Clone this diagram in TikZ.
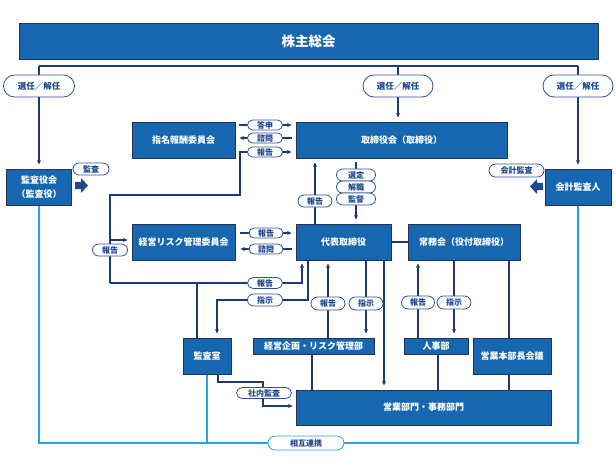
\documentclass[tikz,border=0pt]{standalone}
\usepackage{fontspec}
\setmainfont{Noto Sans CJK JP}
\usetikzlibrary{arrows.meta,shapes.misc}
\definecolor{boxblue}{RGB}{22,102,176}
\definecolor{navy}{RGB}{28,58,122}
\definecolor{boxedge}{RGB}{38,50,86}
\definecolor{pilledge}{RGB}{50,82,150}
\definecolor{pilltext}{RGB}{30,72,145}
\definecolor{blockarrow}{RGB}{36,72,140}
\definecolor{cyanline}{RGB}{38,163,224}
\pgfdeclarelayer{bg}
\pgfsetlayers{bg,main}
\tikzset{
  box/.style={draw=boxedge, line width=0.9pt, fill=boxblue, text=white,
    font=\bfseries\fontsize{9}{11}\selectfont, inner sep=0pt, align=center},
  pill/.style 2 args={rounded rectangle, draw=pilledge, line width=0.8pt, fill=white,
    text=pilltext, font=\bfseries\fontsize{8}{9}\selectfont, inner sep=0pt,
    minimum width=#1pt, minimum height=#2pt},
  bigpill/.style={font=\bfseries\fontsize{8.5}{9}\selectfont},
  ln/.style={draw=navy, line width=1.1pt},
  arr/.style={ln, -{Stealth[length=4.5pt,width=4pt]}},
  cy/.style={draw=cyanline, line width=1.4pt},
}
\begin{document}
\begin{tikzpicture}[x=1pt,y=-1pt]
\useasboundingbox (0,0) rectangle (616,468);
% ---------- boxes ----------
\node[box, minimum width=579pt, minimum height=36pt, font=\bfseries\fontsize{13.5}{15}\selectfont] (kabu) at (308.5,41) {株主総会};
\node[box, minimum width=65pt, minimum height=36pt] (kansayaku) at (39,187) {監査役会\\[3pt]（監査役）};
\node[box, minimum width=103pt, minimum height=36pt] (shimei) at (183.5,140) {指名報酬委員会};
\node[box, minimum width=211pt, minimum height=36pt] (torishimari) at (401.5,140) {取締役会（取締役）};
\node[box, minimum width=66pt, minimum height=36pt] (kaikei) at (578,187) {会計監査人};
\node[box, minimum width=103pt, minimum height=36pt] (risk) at (183.5,242) {経営リスク管理委員会};
\node[box, minimum width=95pt, minimum height=36pt] (daihyo) at (343.5,242) {代表取締役};
\node[box, minimum width=112pt, minimum height=36pt] (jomu) at (464,242) {常務会（役付取締役）};
\node[box, minimum width=48pt, minimum height=36pt] (kansashitsu) at (207,356) {監査室};
\node[box, minimum width=121pt, minimum height=16pt] (keiei) at (313.5,346) {経営企画・リスク管理部};
\node[box, minimum width=64pt, minimum height=16pt] (jinji) at (436,346) {人事部};
\node[box, minimum width=78pt, minimum height=36pt] (honbu) at (512,356) {営業本部長会議};
\node[box, minimum width=255pt, minimum height=35pt] (eigyo) at (423.5,407.5) {営業部門・事務部門};
% ---------- pills ----------
\node[pill={71}{22}, bigpill] (s1) at (39,86) {選任／解任};
\node[pill={70}{22}, bigpill] (s2) at (398,86) {選任／解任};
\node[pill={70}{22}, bigpill] (s3) at (578,86) {選任／解任};
\node[pill={35}{10}] (toushin) at (265,125) {答申};
\node[pill={35}{10}] (shimon1) at (265,138) {諮問};
\node[pill={35}{10}] (houkoku1) at (265,152) {報告};
\node[pill={34}{12}] (houkoku2) at (315,201) {報告};
\node[pill={39}{12}] (sentei) at (356,175) {選定};
\node[pill={39}{12}] (kaishoku) at (356,187) {解職};
\node[pill={39}{12}] (kantoku) at (356,199) {監督};
\node[pill={36}{12}] (kansa) at (91,169) {監査};
\node[pill={55}{13}] (kaikeikansa) at (516.5,170.5) {会計監査};
\node[pill={35}{12}] (houkoku3) at (110,250) {報告};
\node[pill={34}{10}] (houkoku4) at (266,233) {報告};
\node[pill={34}{10}] (shimon2) at (266,249) {諮問};
\node[pill={35}{11}] (houkoku5) at (265,283) {報告};
\node[pill={35}{12}] (shiji1) at (265,300) {指示};
\node[pill={34}{13}] (houkoku6) at (328,303.5) {報告};
\node[pill={34}{13}] (shiji2) at (366,303.5) {指示};
\node[pill={33}{13}] (houkoku7) at (418,302.5) {報告};
\node[pill={34}{13}] (shiji3) at (454,302.5) {指示};
\node[pill={55}{11}] (shanai) at (264,393) {社内監査};
\node[pill={76}{14}, draw=cyanline] (sougo) at (306,443) {相互連携};
% ---------- block arrows ----------
\fill[blockarrow] (75,182) -- (81,182) -- (81,178) -- (88,185.5) -- (81,193) -- (81,189) -- (75,189) -- cycle;
\fill[blockarrow] (543,183) -- (537,183) -- (537,179) -- (530,186.5) -- (537,194) -- (537,190) -- (543,190) -- cycle;
% ---------- connectors ----------
\coordinate (topL) at (39,66);
\coordinate (topM) at (398,66);
\coordinate (topR) at (578,66);
\coordinate (rA) at (110,195);
\coordinate (rB) at (240,195);
\coordinate (rC) at (110,240);
\coordinate (rD) at (302,283);
\coordinate (rE) at (197,283);
\coordinate (iA) at (308,300);
\coordinate (iB) at (217,300);
\coordinate (dE) at (384,300);
\coordinate (jh) at (509,300);
\coordinate (kE) at (312,370);
\coordinate (jE) at (438,370);
\coordinate (sA) at (218,382);
\coordinate (sB) at (263,382);
\coordinate (sC) at (263,406);
\coordinate (cL) at (39,443);
\coordinate (cR) at (578,443);
\begin{pgfonlayer}{bg}
\draw[ln] (topL) -- (topR);
\draw[arr, shorten >=4pt] (topL) -- (kansayaku.north);
\draw[arr, shorten >=4pt] (topM) -- (topM |- torishimari.north);
\draw[arr, shorten >=4pt] (topR) -- (kaikei.north);
\draw[arr, shorten <=4pt, shorten >=4pt] (shimei.east |- toushin) -- (torishimari.west |- toushin);
\draw[arr, shorten <=4pt, shorten >=4pt] (torishimari.west |- shimon1) -- (shimei.east |- shimon1);
\draw[arr, shorten >=4pt] (houkoku3 |- houkoku5) -- (rA) -- (rB) -- (rB |- houkoku1) -- (torishimari.west |- houkoku1);
\draw[arr, shorten >=4pt] (rC) -- (rC -| risk.west);
\draw[arr, shorten >=3pt] (houkoku3 |- houkoku5) -- (rD) -- (rD |- daihyo.south);
\draw[ln] (rE) -- (rE |- kansashitsu.north);
\draw[arr, shorten >=4pt] (iA |- daihyo.south) -- (iA) -- (iB) -- (iB |- kansashitsu.north);
\draw[arr, shorten <=5pt, shorten >=4pt] (risk.east |- houkoku4) -- (daihyo.west |- houkoku4);
\draw[arr, shorten <=4pt, shorten >=5pt] (daihyo.west |- shimon2) -- (risk.east |- shimon2);
\draw[arr, shorten >=4pt] (houkoku2 |- daihyo.north) -- (houkoku2 |- torishimari.south);
\draw[arr, shorten <=4pt, shorten >=4pt] (sentei |- torishimari.south) -- (sentei |- daihyo.north);
\draw[ln] (daihyo.east) -- (jomu.west);
\draw[arr, shorten >=3pt] (houkoku6 |- keiei.north) -- (houkoku6 |- daihyo.south);
\draw[arr, shorten >=4pt] (shiji2 |- daihyo.south) -- (shiji2 |- keiei.north);
\draw[arr, shorten >=4pt] (dE |- daihyo.south) -- (dE |- eigyo.north);
\draw[arr, shorten >=3pt] (houkoku7 |- jinji.north) -- (houkoku7 |- jomu.south);
\draw[arr, shorten >=4pt] (shiji3 |- jomu.south) -- (shiji3 |- jinji.north);
\draw[ln] (jh |- jomu.south) -- (jh |- honbu.north);
\draw[ln] (jh |- honbu.south) -- (jh |- eigyo.north);
\draw[ln] (kE |- keiei.south) -- (kE |- eigyo.north);
\draw[ln] (jE |- jinji.south) -- (jE |- eigyo.north);
\draw[arr, shorten >=3pt] (sA |- kansashitsu.south) -- (sA) -- (sB) -- (sC) -- (sC -| eigyo.west);
\draw[cy] (kansayaku.south) -- (cL) -- (cR) -- (kaikei.south);
\draw[cy] (kansashitsu.south) -- (kansashitsu.south |- cL);
\end{pgfonlayer}
\end{tikzpicture}
\end{document}
